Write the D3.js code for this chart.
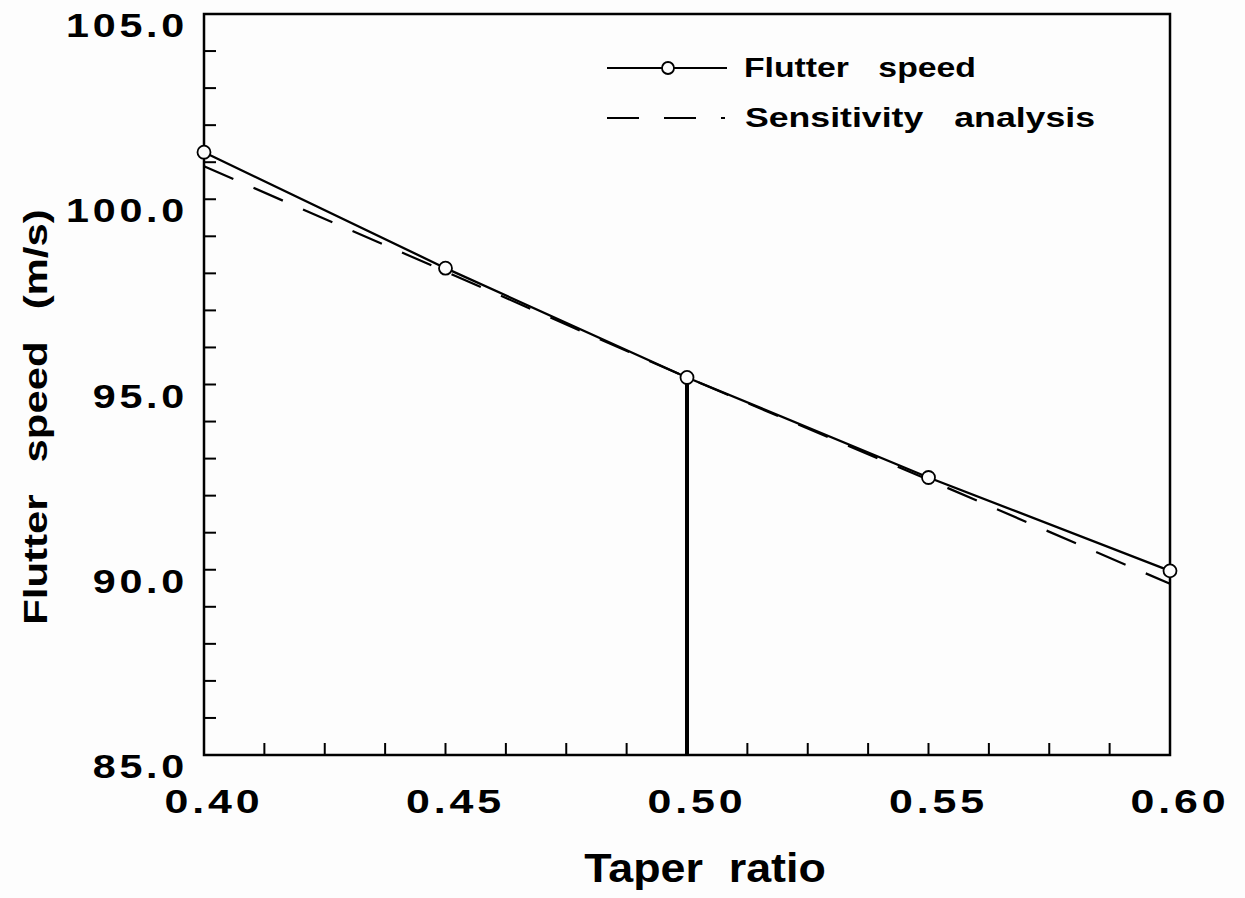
<!DOCTYPE html>
<html>
<head>
<meta charset="utf-8">
<script src="https://cdn.jsdelivr.net/npm/d3@7"></script>
<style>
  body { margin: 0; background: #fdfdfd; }
  svg { display: block; font-family: "Liberation Sans", Arial, sans-serif; font-weight: bold; }
</style>
</head>
<body>
<svg id="chart" width="1245" height="898"></svg>
<script>
// data
const taper = [0.40, 0.45, 0.50, 0.55, 0.60]
const flutterSpeed = [101.27, 98.14, 95.19, 92.49, 89.97]
const sensitivity = [100.89, 98.05, 95.19, 92.43, 89.62]
const xLabels = [0.40, 0.45, 0.50, 0.55, 0.60]
const yLabels = [85, 90, 95, 100, 105]
const markAt = 0.50

const svg = d3.select("#chart")
const m = {left: 204, right: 1170, top: 14, bottom: 755}

const x = d3.scaleLinear().domain([0.40, 0.60]).range([m.left, m.right])
const y = d3.scaleLinear().domain([85, 105]).range([m.bottom, m.top])

// the original lettering is a wide bold face, so stretch glyphs sideways
const stretch = (sel, k) => sel.each(function () {
  const len = this.getComputedTextLength()
  d3.select(this).attr("textLength", len * k).attr("lengthAdjust", "spacingAndGlyphs")
})

// minor ticks (inward)
const xTicks = d3.range(0, 17).map(i => 0.40 + i * 0.0125)
const yTicks = d3.range(85, 106, 1)

svg.append("g").selectAll("line").data(xTicks.slice(1, -1))
  .join("line")
  .attr("x1", d => x(d)).attr("x2", d => x(d))
  .attr("y1", m.bottom).attr("y2", m.bottom - 12)
  .attr("stroke", "#000").attr("stroke-width", 2)

svg.append("g").selectAll("line").data(yTicks.slice(1, -1))
  .join("line")
  .attr("x1", m.left).attr("x2", m.left + 12)
  .attr("y1", d => y(d)).attr("y2", d => y(d))
  .attr("stroke", "#000").attr("stroke-width", 2)

// frame
svg.append("rect")
  .attr("x", m.left).attr("y", m.top)
  .attr("width", m.right - m.left).attr("height", m.bottom - m.top)
  .attr("fill", "none").attr("stroke", "#000").attr("stroke-width", 2.5)

// tick labels
svg.append("g").selectAll("text").data(xLabels)
  .join("text")
  .attr("x", d => x(d) + 10)
  .attr("y", 813)
  .attr("text-anchor", "middle")
  .attr("font-size", 33)
  .attr("letter-spacing", 3)
  .text(d => d.toFixed(2))
  .call(stretch, 1.3)

svg.append("g").selectAll("text").data(yLabels)
  .join("text")
  .attr("x", 188)
  .attr("y", d => y(d) + 23)
  .attr("text-anchor", "end")
  .attr("font-size", 33)
  .attr("letter-spacing", 3)
  .text(d => d.toFixed(1))
  .call(stretch, 1.25)

// axis titles
svg.append("text")
  .attr("x", 705).attr("y", 882)
  .attr("text-anchor", "middle")
  .attr("font-size", 40)
  .attr("word-spacing", 12)
  .text("Taper ratio")
  .call(stretch, 1.12)

svg.append("text")
  .attr("transform", "translate(47,417) rotate(-90)")
  .attr("text-anchor", "middle")
  .attr("font-size", 33)
  .attr("word-spacing", 16)
  .text("Flutter speed (m/s)")
  .call(stretch, 1.27)

// vertical marker at taper 0.50
const iMark = taper.indexOf(markAt)
svg.append("line")
  .attr("x1", x(markAt)).attr("x2", x(markAt))
  .attr("y1", y(flutterSpeed[iMark]) + 6).attr("y2", m.bottom)
  .attr("stroke", "#000").attr("stroke-width", 4)

const line = d3.line().x(d => x(d[0])).y(d => y(d[1]))

// sensitivity analysis (dashed)
svg.append("path")
  .datum(taper.map((t, i) => [t, sensitivity[i]]))
  .attr("d", line)
  .attr("fill", "none").attr("stroke", "#000").attr("stroke-width", 2.2)
  .attr("stroke-dasharray", "32,22")

// flutter speed (solid with circles)
svg.append("path")
  .datum(taper.map((t, i) => [t, flutterSpeed[i]]))
  .attr("d", line)
  .attr("fill", "none").attr("stroke", "#000").attr("stroke-width", 2.3)

svg.append("g").selectAll("circle").data(taper)
  .join("circle")
  .attr("cx", d => x(d))
  .attr("cy", (d, i) => y(flutterSpeed[i]))
  .attr("r", 6.5)
  .attr("fill", "#fdfdfd").attr("stroke", "#000").attr("stroke-width", 1.8)

// legend
const lg = svg.append("g")
lg.append("line").attr("x1", 607).attr("x2", 727).attr("y1", 68).attr("y2", 68)
  .attr("stroke", "#000").attr("stroke-width", 2)
lg.append("circle").attr("cx", 668).attr("cy", 68).attr("r", 6)
  .attr("fill", "#fdfdfd").attr("stroke", "#000").attr("stroke-width", 1.8)
lg.append("text").attr("x", 744).attr("y", 77).attr("font-size", 27)
  .attr("word-spacing", 16).text("Flutter speed")
  .call(stretch, 1.25)

lg.append("line").attr("x1", 607).attr("x2", 740).attr("y1", 118).attr("y2", 118)
  .attr("stroke", "#000").attr("stroke-width", 2)
  .attr("stroke-dasharray", "32,25,32,25,4,100")
lg.append("text").attr("x", 745).attr("y", 127).attr("font-size", 27)
  .attr("word-spacing", 16).text("Sensitivity analysis")
  .call(stretch, 1.32)
</script>
</body>
</html>
